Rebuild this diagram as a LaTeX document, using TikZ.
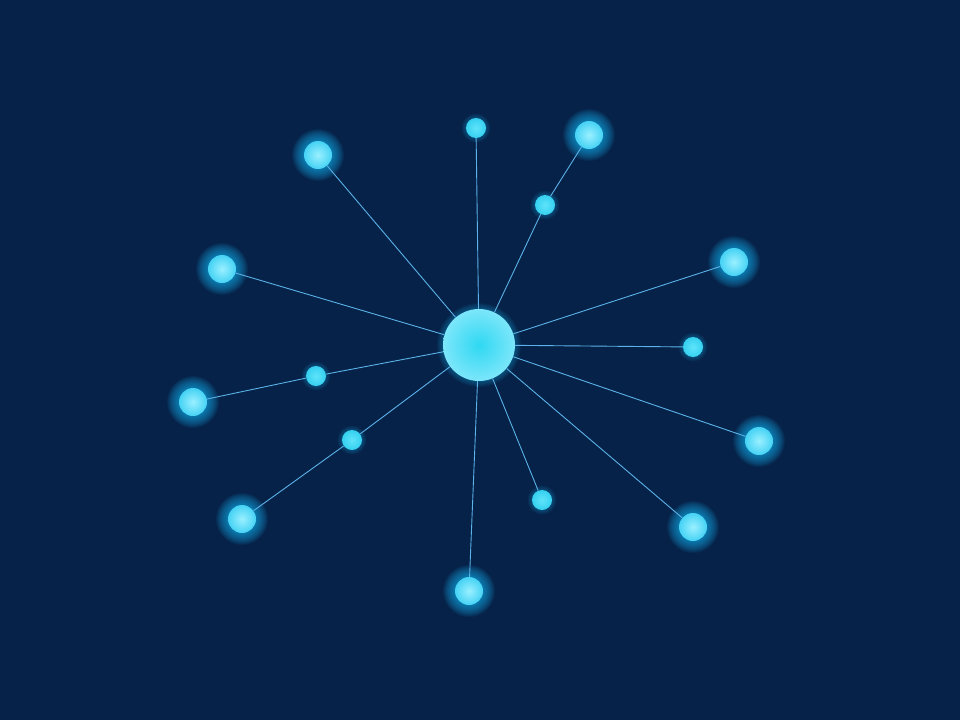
\documentclass[tikz,border=0pt]{standalone}
\usetikzlibrary{backgrounds}
\definecolor{bg}{HTML}{062248}
\definecolor{edgec}{HTML}{5AB2E8}
\definecolor{glowc}{HTML}{18B4F2}
\definecolor{bigin}{HTML}{9AF0FF}
\definecolor{bigout}{HTML}{45D2F4}
\definecolor{smallin}{HTML}{5FE4FA}
\definecolor{smallout}{HTML}{35D0F0}
\definecolor{hubin}{HTML}{2FD8F2}
\definecolor{hubout}{HTML}{7CE6FA}
\tikzset{
  bignode/.style={circle, inner sep=0pt, minimum size=28pt, shade, inner color=bigin, outer color=bigout},
  smallnode/.style={circle, inner sep=0pt, minimum size=20pt, shade, inner color=smallin, outer color=smallout},
  hubnode/.style={circle, inner sep=0pt, minimum size=72pt, shade, inner color=hubin, outer color=hubout},
  link/.style={draw=edgec, line width=0.9pt}
}
\begin{document}
\begin{tikzpicture}[x=1pt,y=-1pt]
\useasboundingbox (0,0) rectangle (960,720);
\node[hubnode] (hub) at (479,345) {};
\node[bignode] (b1) at (318,155) {};
\node[bignode] (b2) at (589,135) {};
\node[bignode] (b3) at (222,269) {};
\node[bignode] (b4) at (734,262) {};
\node[bignode] (b5) at (193,402) {};
\node[bignode] (b6) at (759,441) {};
\node[bignode] (b7) at (242,519) {};
\node[bignode] (b8) at (693,527) {};
\node[bignode] (b9) at (469,591) {};
\node[smallnode] (s1) at (476,128) {};
\node[smallnode] (s2) at (545,205) {};
\node[smallnode] (s3) at (693,347) {};
\node[smallnode] (s4) at (316,376) {};
\node[smallnode] (s5) at (352,440) {};
\node[smallnode] (s6) at (542,500) {};
\begin{pgfonlayer}{background}
\fill[bg] (0,0) rectangle (960,720);
\foreach \n in {b1,b2,b3,b4,b5,b6,b7,b8,b9}{
  \foreach \k in {1,...,12}{
    \fill[glowc, opacity=0.07] (\n.center) circle ({14+\k*1.0});
  }
}
\foreach \n in {s1,s2,s3,s4,s5,s6}{
  \foreach \k in {1,...,5}{
    \fill[glowc, opacity=0.06] (\n.center) circle ({10+\k*0.9});
  }
}
\foreach \k in {1,...,6}{
  \fill[glowc, opacity=0.06] (hub.center) circle ({36+\k*1.0});
}
\draw[link] (hub) -- (b1);
\draw[link] (hub) -- (s1);
\draw[link] (hub) -- (s2) -- (b2);
\draw[link] (hub) -- (b3);
\draw[link] (hub) -- (b4);
\draw[link] (hub) -- (s3);
\draw[link] (hub) -- (s4) -- (b5);
\draw[link] (hub) -- (b6);
\draw[link] (hub) -- (s5) -- (b7);
\draw[link] (hub) -- (b8);
\draw[link] (hub) -- (s6);
\draw[link] (hub) -- (b9);
\end{pgfonlayer}
\end{tikzpicture}
\end{document}
